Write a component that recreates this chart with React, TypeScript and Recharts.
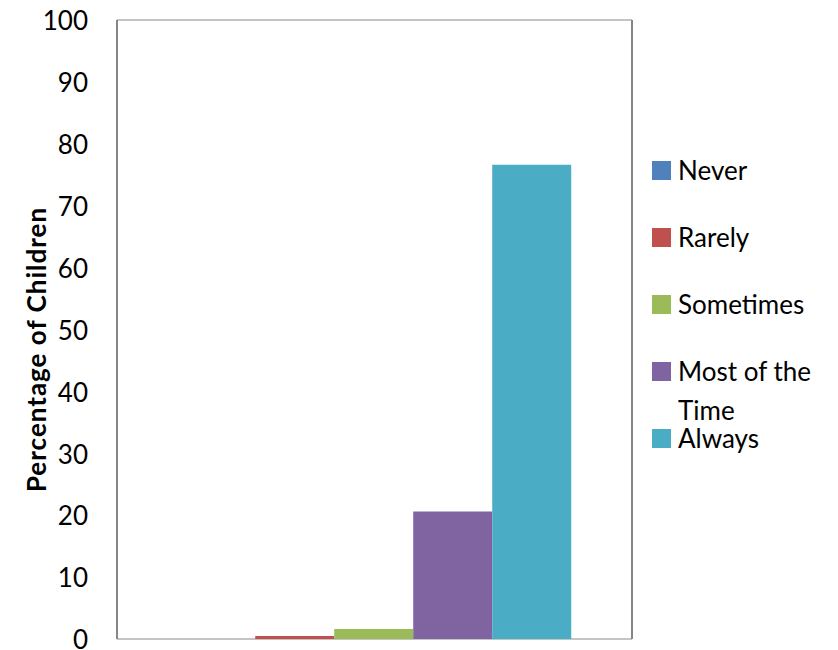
import React from 'react';
import { BarChart, Bar, XAxis, YAxis, CartesianGrid } from 'recharts';

const categories = [''];
const seriesNames = ['Never', 'Rarely', 'Sometimes', 'Most of the Time', 'Always'];
const seriesValues = [0, 0.5, 1.6, 20.6, 76.6];
const seriesColors = ['#4F81BD', '#C0504D', '#9BBB59', '#8064A2', '#4BACC6'];
const yTicks = [0, 10, 20, 30, 40, 50, 60, 70, 80, 90, 100];
const yLabel = 'Percentage of Children';

const data = categories.map((c) => {
  const row: Record<string, any> = { name: c };
  seriesNames.forEach((s, i) => (row[s] = seriesValues[i]));
  return row;
});

const FONT = 'Lato, "Open Sans", sans-serif';

export default function App() {
  return (
    <div style={{ position: 'relative', width: 830, height: 642, overflow: 'hidden', fontFamily: FONT }}>
      <style>{`html,body{overflow:hidden}`}</style>
      <BarChart
        width={830}
        height={700}
        data={data}
        margin={{ top: 12, right: 205, bottom: 69, left: 0 }}
        barCategoryGap="11.5%"
        barGap={0}
      >
        <CartesianGrid vertical={false} stroke="#8a8a8a" strokeWidth={1.2} />
        <XAxis dataKey="name" height={0} tick={false} tickLine={false} axisLine={{ stroke: '#868686', strokeWidth: 2 }} />
        <YAxis
          yAxisId="left"
          domain={[0, 100]}
          ticks={yTicks}
          width={109}
          tickLine={false}
          tickSize={0}
          tickMargin={29}
          axisLine={{ stroke: '#868686', strokeWidth: 2 }}
          tick={{ fill: '#000', fontSize: 26, fontFamily: FONT, dy: 1 }}
          interval={0}
          label={{
            value: yLabel,
            content: ({ viewBox }: any) => {
              const cx = 28;
              const cy = viewBox.y + viewBox.height / 2 + 20;
              return (
                <text
                  x={cx}
                  y={cy}
                  transform={`rotate(-90 ${cx} ${cy})`}
                  textAnchor="middle"
                  dominantBaseline="central"
                  style={{ fontSize: 26, fontWeight: 700, letterSpacing: 1, fontFamily: FONT, fill: '#000' }}
                >
                  {yLabel}
                </text>
              );
            },
          }}
        />
        <YAxis
          yAxisId="right"
          orientation="right"
          domain={[0, 100]}
          width={1}
          tick={false}
          tickLine={false}
          axisLine={{ stroke: '#868686', strokeWidth: 2 }}
        />
        {seriesNames.map((s, i) => (
          <Bar key={s} yAxisId="left" dataKey={s} fill={seriesColors[i]} isAnimationActive={false} />
        ))}
      </BarChart>
      <div style={{ position: 'absolute', left: 644, top: 128.5, width: 180 }}>
        {seriesNames.map((s, i) => (
          <div key={s} style={{ position: 'absolute', top: i * 67, left: 0, height: 67, width: 180 }}>
            <div style={{ position: 'absolute', left: 0, top: 24, width: 19, height: 19, background: seriesColors[i] }} />
            <div style={{ position: 'absolute', left: 26, top: 14, width: 150, fontSize: 26, lineHeight: '39px', color: '#000', fontFamily: FONT }}>
              {s}
            </div>
          </div>
        ))}
      </div>
    </div>
  );
}
